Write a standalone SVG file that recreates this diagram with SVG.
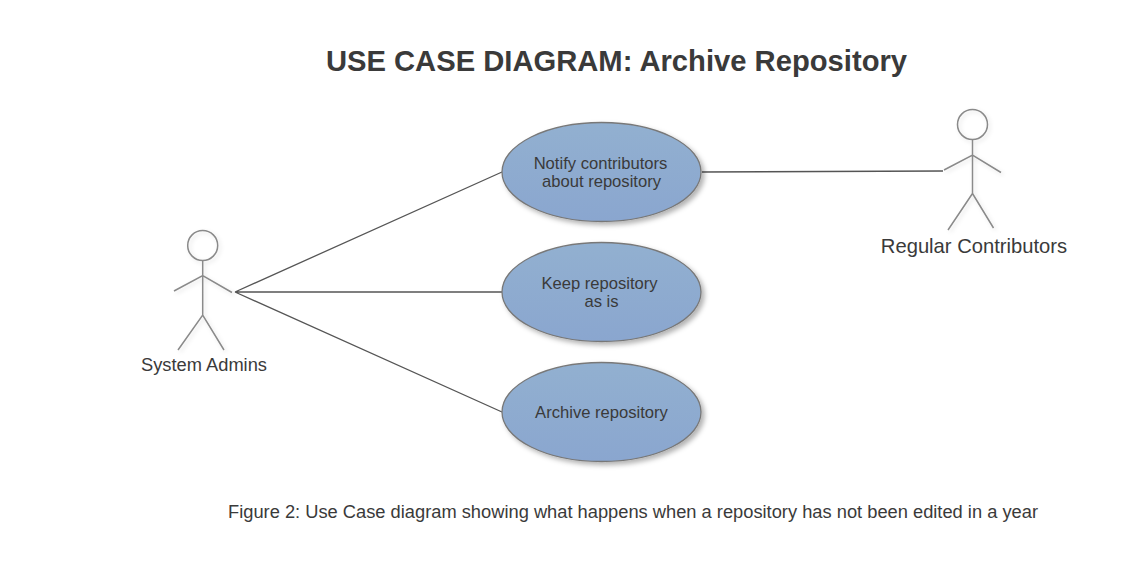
<svg xmlns="http://www.w3.org/2000/svg" width="1146" height="568" viewBox="0 0 1146 568">
<style>
text{font-family:"Liberation Sans",Arial,sans-serif;fill:#3a3a3a;text-anchor:middle}
.uc{fill:url(#g);stroke:#787878;stroke-width:1.3;filter:url(#s)}
.a{fill:none;stroke:#8a8a8a;stroke-width:1.5;filter:url(#s2)}
.c{fill:none;stroke:#555;stroke-width:1.3}
.t{font-size:16.600px}
</style>
<defs>
<linearGradient id="g" x1="0" y1="0" x2="0" y2="1"><stop offset="0" stop-color="#92b0d0"/><stop offset="1" stop-color="#8aa6cf"/></linearGradient>
<filter id="s" x="-10%" y="-10%" width="125%" height="125%"><feDropShadow dx="3" dy="3" stdDeviation="2.500" flood-color="#000" flood-opacity=".3"/></filter>
<filter id="s2" x="-10%" y="-10%" width="125%" height="125%"><feDropShadow dx="2" dy="2" stdDeviation="2" flood-color="#000" flood-opacity=".12"/></filter>
</defs>
<rect width="1146" height="568" fill="#fff"/>
<g id="connectors">
<path class="c" d="M235 292L502 172M235 292H502M235 292L502 412M702 172L943 171"/>
</g>
<g id="title"><text x="616.500" y="71" font-size="29.200" font-weight="700" fill="#333">USE CASE DIAGRAM: Archive Repository</text></g>
<g id="uc1"><ellipse class="uc" cx="601.500" cy="172" rx="99.500" ry="49.500"/><text class="t" x="600.500" y="169">Notify contributors</text><text class="t" x="601.500" y="187">about repository</text></g>
<g id="uc2"><ellipse class="uc" cx="601.500" cy="292" rx="99.500" ry="49.500"/><text class="t" x="599.500" y="289">Keep repository</text><text class="t" x="601.500" y="307">as is</text></g>
<g id="uc3"><ellipse class="uc" cx="601.500" cy="412" rx="99.500" ry="49.500"/><text class="t" x="601.500" y="418">Archive repository</text></g>
<g id="actor-admins"><g class="a"><circle cx="202.700" cy="245.500" r="15"/><path d="M202.700 261V315M174 291L202.700 275.500L232 292.500M178 350L202.700 315L224 350"/></g><text x="204" y="371" font-size="18.300">System Admins</text></g>
<g id="actor-contributors"><g class="a"><circle cx="972.500" cy="124.500" r="15"/><path d="M972.500 140V193.500M944 170L972.500 155L1001 172.500M948 230L972.500 193.500L993.500 228"/></g><text x="974" y="252.500" font-size="20.200">Regular Contributors</text></g>
<g id="caption"><text x="633" y="518" font-size="18.300">Figure 2: Use Case diagram showing what happens when a repository has not been edited in a year</text></g>
</svg>
